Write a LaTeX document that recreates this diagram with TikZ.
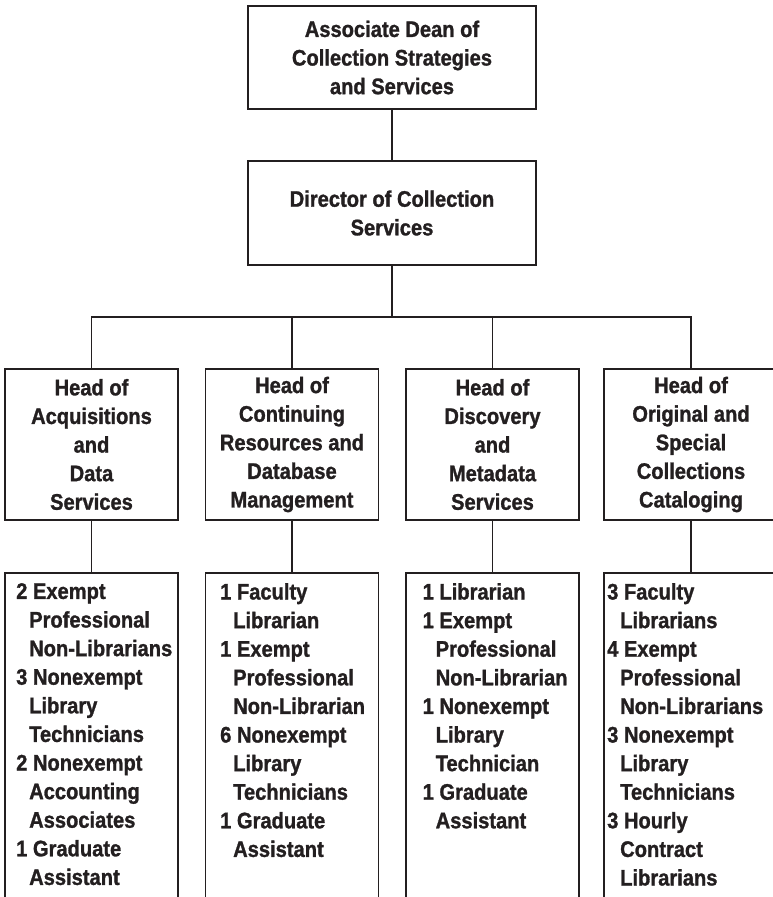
\documentclass[tikz,border=0pt]{standalone}
\usepackage{fontspec}
\setmainfont{Liberation Sans}[FakeStretch=0.894, BoldFeatures={FakeBold=1.2}]
\definecolor{ink}{RGB}{35,31,32}
\newcommand{\hind}{\hspace*{13pt}}
\tikzset{
  chartfont/.style={font=\bfseries\fontsize{22.5}{28.6}\selectfont},
  box/.style={draw, line width=1.5pt, inner sep=0pt, align=center, chartfont},
  staffbox/.style={draw, line width=1.5pt, inner sep=0pt, minimum height=340pt},
  stafftext/.style={anchor=north west, inner sep=0pt, align=left, chartfont},
  link/.style={line width=1.5pt}
}
\begin{document}
\begin{tikzpicture}[x=1pt, y=-1pt, color=ink]
\useasboundingbox (0,0) rectangle (773,897);

\node[box, minimum width=288pt, minimum height=103pt] (dean) at (392,57.5)
  {Associate Dean of\\Collection Strategies\\and Services};
\node[box, minimum width=288pt, minimum height=104pt] (dir) at (392,213)
  {Director of Collection\\Services};

\node[box, minimum width=173pt, minimum height=151pt] (h1) at (91.5,444.5)
  {Head of\\Acquisitions\\and\\Data\\Services};
\node[box, minimum width=173pt, minimum height=151pt] (h2) at (292,444.5)
  {Head of\\Continuing\\Resources and\\Database\\Management};
\node[box, minimum width=173pt, minimum height=151pt] (h3) at (492.5,444.5)
  {Head of\\Discovery\\and\\Metadata\\Services};
\node[box, minimum width=174pt, minimum height=151pt] (h4) at (691,444.5)
  {Head of\\Original and\\Special\\Collections\\Cataloging};

\node[staffbox, minimum width=173pt] (s1) at (91.5,743) {};
\node[staffbox, minimum width=173pt] (s2) at (292,743) {};
\node[staffbox, minimum width=173pt] (s3) at (492.5,743) {};
\node[staffbox, minimum width=174pt] (s4) at (691,743) {};

\node[stafftext] (t1) at (16,583)
  {2 Exempt\\\hind Professional\\\hind Non-Librarians\\3 Nonexempt\\\hind Library\\\hind Technicians\\2 Nonexempt\\\hind Accounting\\\hind Associates\\1 Graduate\\\hind Assistant};
\node[stafftext] (t2) at (220,583)
  {1 Faculty\\\hind Librarian\\1 Exempt\\\hind Professional\\\hind Non-Librarian\\6 Nonexempt\\\hind Library\\\hind Technicians\\1 Graduate\\\hind Assistant};
\node[stafftext] (t3) at (422.5,583)
  {1 Librarian\\1 Exempt\\\hind Professional\\\hind Non-Librarian\\1 Nonexempt\\\hind Library\\\hind Technician\\1 Graduate\\\hind Assistant};
\node[stafftext] (t4) at (607,583)
  {3 Faculty\\\hind Librarians\\4 Exempt\\\hind Professional\\\hind Non-Librarians\\3 Nonexempt\\\hind Library\\\hind Technicians\\3 Hourly\\\hind Contract\\\hind Librarians};

\coordinate (bus) at (392,317);
\draw[link] (dean) -- (dir);
\draw[link] (dir) -- (bus);
\draw[link] (h1.north) -- (h1.north |- bus) -- (h4.north |- bus) -- (h4.north);
\draw[link] (h2.north) -- (h2.north |- bus);
\draw[link] (h3.north) -- (h3.north |- bus);
\draw[link] (h1) -- (s1);
\draw[link] (h2) -- (s2);
\draw[link] (h3) -- (s3);
\draw[link] (h4) -- (s4);
\end{tikzpicture}
\end{document}
